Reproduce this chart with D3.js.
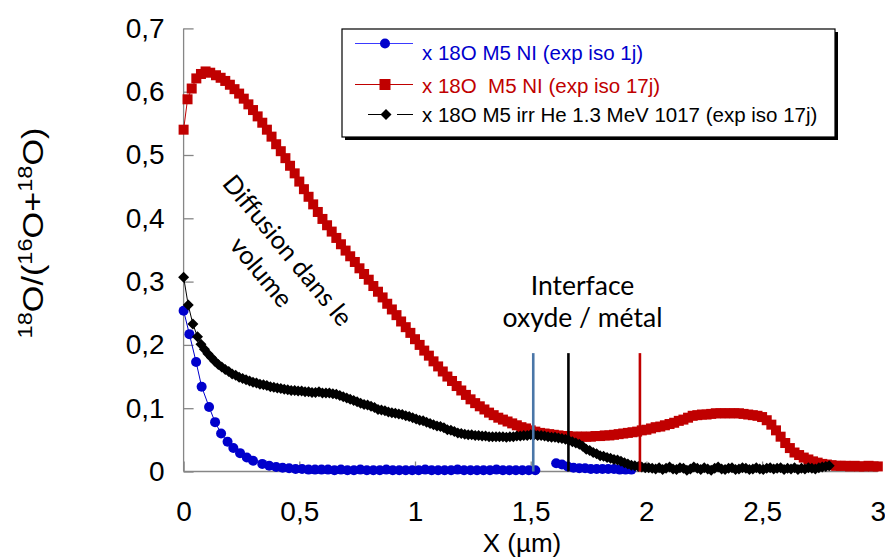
<!DOCTYPE html>
<html><head><meta charset="utf-8">
<script src="https://cdn.jsdelivr.net/npm/d3@7"></script>
<style>
html,body{margin:0;padding:0;background:#fff;}
svg{display:block;}
</style></head>
<body>
<svg id="c" width="885" height="559"></svg>
<script>
// ---------- data ----------
const blueX1 = [0,0.025,0.054,0.078,0.11,0.136,0.162,0.19,0.215,0.244,0.273,0.30,0.34,0.37,
 0.40,0.428,0.456,0.484,0.512,0.54,0.568,0.596,0.624,0.652,0.68,0.708,0.736,0.764,0.792,0.82,0.848,0.876,0.904,0.932,0.96,0.988,
 1.016,1.044,1.072,1.10,1.128,1.156,1.184,1.212,1.24,1.268,1.296,1.324,1.352,1.38,1.408,1.436,1.464,1.492,1.52];
const blueY1 = [0.254,0.217,0.173,0.134,0.102,0.078,0.060,0.047,0.037,0.029,0.022,0.017,0.012,0.009,
 0.007,0.006,0.005,0.004,0.004,0.003,0.003,0.003,0.003,0.002,0.003,0.002,0.002,0.003,0.002,0.002,0.002,0.003,0.002,0.002,0.002,0.002,
 0.002,0.003,0.002,0.002,0.002,0.002,0.003,0.002,0.002,0.002,0.002,0.002,0.003,0.002,0.002,0.002,0.002,0.002,0.002];
const blueX2 = [1.61,1.635,1.66,1.685,1.71,1.735,1.76,1.785,1.81,1.835,1.86,1.885,1.91,1.935];
const blueY2 = [0.013,0.011,0.008,0.006,0.005,0.005,0.004,0.004,0.004,0.004,0.004,0.003,0.003,0.003];

const redX = [0,0.017,0.035,0.055,0.075,0.095,0.115,
 0.14,0.16,0.18,0.20,0.22,0.24,0.26,0.28,0.30,0.32,0.34,0.36,0.38,0.40,0.42,0.44,0.46,0.48,0.50,0.52,0.54,0.56,0.58,0.60,
 0.62,0.64,0.66,0.68,0.70,0.72,0.74,0.76,0.78,0.80,0.82,0.84,0.86,0.88,0.90,0.92,0.94,0.96,0.98,1.00,
 1.02,1.04,1.06,1.08,1.10,1.12,1.14,1.16,1.18,1.20,1.22,1.24,1.26,1.28,1.30,1.32,1.34,1.36,1.38,1.40,
 1.42,1.44,1.46,1.48,1.50,1.52,1.54,1.56,1.58,1.60,1.62,1.64,1.66,1.68,1.70,1.72,1.74,1.76,1.78,1.80,
 1.82,1.84,1.86,1.88,1.90,1.92,1.94,1.96,1.98,2.00,2.02,2.04,2.06,2.08,2.10,2.12,2.14,2.16,2.18,2.20,
 2.22,2.24,2.26,2.28,2.30,2.32,2.34,2.36,2.38,2.40,2.42,2.44,2.46,2.48,2.50,2.52,2.54,2.56,2.58,2.60,
 2.62,2.64,2.66,2.68,2.70,2.72,2.74,2.76,2.78,2.80,2.82,2.84,2.86,2.88,2.90,2.92,2.94,2.96,2.98,3.00];
const redY = [0.540,0.588,0.605,0.621,0.628,0.632,0.630,
 0.626,0.622,0.617,0.611,0.604,0.597,0.589,0.580,0.571,0.561,0.551,0.540,0.529,0.517,0.506,0.495,0.483,0.471,0.458,0.446,0.434,0.422,0.410,0.399,
 0.389,0.379,0.369,0.359,0.349,0.340,0.331,0.321,0.312,0.303,0.293,0.284,0.275,0.265,0.256,0.247,0.237,0.228,0.219,0.209,
 0.200,0.191,0.183,0.174,0.166,0.158,0.150,0.143,0.135,0.128,0.121,0.114,0.108,0.103,0.098,0.093,0.089,0.085,0.082,0.079,
 0.076,0.073,0.070,0.068,0.065,0.063,0.061,0.060,0.059,0.058,0.057,0.056,0.056,0.055,0.055,0.055,0.055,0.055,0.056,0.056,
 0.057,0.057,0.058,0.059,0.060,0.061,0.062,0.063,0.065,0.066,0.068,0.070,0.071,0.073,0.075,0.077,0.080,0.082,0.085,0.088,
 0.089,0.090,0.090,0.091,0.092,0.092,0.092,0.092,0.092,0.092,0.091,0.090,0.089,0.088,0.086,0.081,0.074,0.065,0.055,0.045,
 0.037,0.030,0.026,0.022,0.019,0.016,0.014,0.012,0.011,0.010,0.009,0.009,0.009,0.008,0.009,0.008,0.008,0.009,0.008,0.008];

const blackX = [0,0.02,0.04,0.06,0.075,
 0.09,0.105,0.12,0.135,0.15,0.165,0.18,0.195,0.21,0.225,
 0.24,0.255,0.27,0.285,0.30,0.315,0.33,0.345,0.36,0.375,
 0.39,0.405,0.42,0.435,0.45,0.465,0.48,0.495,0.51,0.525,
 0.54,0.555,0.57,0.585,0.60,0.615,0.63,0.645,0.66,0.675,
 0.69,0.705,0.72,0.735,0.75,0.765,0.78,0.795,0.81,0.825,
 0.84,0.855,0.87,0.885,0.90,0.915,0.93,0.945,0.96,0.975,
 0.99,1.005,1.02,1.035,1.05,1.065,1.08,1.095,1.11,1.125,
 1.14,1.155,1.17,1.185,1.20,1.215,1.23,1.245,1.26,1.275,
 1.29,1.305,1.32,1.335,1.35,1.365,1.38,1.395,1.41,1.425,
 1.44,1.455,1.47,1.485,1.50,1.515,1.53,1.545,1.56,1.575,
 1.59,1.605,1.62,1.635,1.65,1.665,1.68,1.695,1.71,1.725,
 1.74,1.755,1.77,1.785,1.80,1.815,1.83,1.845,1.86,1.875,
 1.89,1.905,1.92,1.935,1.95,1.965,1.98,1.995,2.01,2.025,
 2.04,2.055,2.07,2.085,2.10,2.115,2.13,2.145,2.16,2.175,
 2.19,2.205,2.22,2.235,2.25,2.265,2.28,2.295,2.31,2.325,
 2.34,2.355,2.37,2.385,2.40,2.415,2.43,2.445,2.46,2.475,
 2.49,2.505,2.52,2.535,2.55,2.565,2.58,2.595,2.61,2.625,
 2.64,2.655,2.67,2.685,2.70,2.715,2.73,2.745,2.76,2.775,
 2.79];
const blackY = [0.307,0.263,0.233,0.213,0.201,
 0.193,0.186,0.180,0.174,0.169,0.165,0.161,0.158,0.154,0.152,
 0.149,0.147,0.145,0.143,0.141,0.140,0.138,0.137,0.136,0.134,
 0.133,0.132,0.131,0.130,0.129,0.128,0.128,0.127,0.127,0.126,
 0.126,0.125,0.125,0.126,0.124,0.124,0.124,0.123,0.122,0.120,
 0.118,0.116,0.114,0.112,0.110,0.108,0.106,0.105,0.103,0.101,
 0.098,0.097,0.096,0.094,0.093,0.092,0.091,0.090,0.088,0.087,
 0.085,0.083,0.081,0.080,0.078,0.076,0.074,0.072,0.071,0.069,
 0.066,0.065,0.063,0.061,0.060,0.059,0.058,0.058,0.057,0.057,
 0.056,0.056,0.055,0.055,0.055,0.055,0.055,0.054,0.055,0.055,
 0.056,0.056,0.057,0.057,0.058,0.058,0.057,0.057,0.056,0.055,
 0.054,0.054,0.053,0.052,0.051,0.049,0.047,0.045,0.043,0.040,
 0.035,0.033,0.030,0.028,0.025,0.024,0.022,0.021,0.019,0.018,
 0.016,0.014,0.012,0.010,0.009,0.008,0.007,0.006,0.006,0.005,
 0.004,0.006,0.003,0.005,0.007,0.004,0.003,0.006,0.005,0.002,
 0.004,0.007,0.005,0.003,0.006,0.004,0.002,0.005,0.007,0.004,
 0.003,0.005,0.006,0.003,0.004,0.006,0.005,0.003,0.004,0.006,
 0.004,0.003,0.005,0.006,0.004,0.005,0.006,0.003,0.005,0.004,
 0.006,0.003,0.005,0.004,0.006,0.005,0.004,0.006,0.007,0.008,
 0.009];

const interfaceX = [1.511,1.663,1.972];
const interfaceTop = 0.187;

const xTicks = [0,0.5,1,1.5,2,2.5,3];
const xTickLabels = ["0","0,5","1","1,5","2","2,5","3"];
const yTicks = [0,0.1,0.2,0.3,0.4,0.5,0.6,0.7];
const yTickLabels = ["0","0,1","0,2","0,3","0,4","0,5","0,6","0,7"];

const legendLabels = ["x 18O M5 NI (exp iso 1j)","x 18O  M5 NI (exp iso 17j)","x 18O M5 irr He 1.3 MeV 1017 (exp iso 17j)"];

// ---------- drawing ----------
const svg = d3.select("#c");
const x = d3.scaleLinear().domain([0,3]).range([183.6,877.8]);
const y = d3.scaleLinear().domain([0,0.7]).range([471.5,28.4]);
const BLUE="#0000cc", RED="#c00000", BLACK="#000000", AXIS="#868686";
const FONT="Liberation Sans, Arial, sans-serif";
const NOTE_FONT="Lato, 'Open Sans', sans-serif";

// axes
const yAxis = d3.axisLeft(y).tickValues(yTicks).tickSize(-10).tickPadding(19)
  .tickFormat((d,i)=>yTickLabels[i]);
const xAxis = d3.axisBottom(x).tickValues(xTicks).tickSize(-10).tickPadding(30)
  .tickFormat((d,i)=>xTickLabels[i]);
const gy = svg.append("g").attr("transform",`translate(${x(0)},0)`).call(yAxis);
const gx = svg.append("g").attr("transform",`translate(0,${y(0)})`).call(xAxis);
[gx,gy].forEach(g=>{
  g.selectAll(".domain").attr("stroke",AXIS).attr("stroke-width",1.3);
  g.selectAll(".tick line").attr("stroke",AXIS).attr("stroke-width",1.3);
  g.selectAll("text").attr("fill","#000").style("font-family",FONT).style("font-size","28px");
});
gx.selectAll(".domain").attr("d",`M${x(0)},0H${x(3)}`);
gy.selectAll(".domain").attr("d",`M0,${y(0)}V${y(0.7)}`);

// axis titles
svg.append("text").attr("x",522).attr("y",552).attr("text-anchor","middle")
  .style("font-family",FONT).style("font-size","26px").text("X (µm)");
const yl = svg.append("text").attr("transform","translate(43,233) rotate(-90) scale(1.18,1)")
  .attr("text-anchor","middle").style("font-family",FONT).style("font-size","29px");
yl.append("tspan").attr("baseline-shift","super").style("font-size","20px").text("18");
yl.append("tspan").text("O/(");
yl.append("tspan").attr("baseline-shift","super").style("font-size","20px").text("16");
yl.append("tspan").text("O+");
yl.append("tspan").attr("baseline-shift","super").style("font-size","20px").text("18");
yl.append("tspan").text("O)");

const line = d3.line().x(d=>x(d[0])).y(d=>y(d[1]));
const zip = (a,b)=>a.map((v,i)=>[v,b[i]]);
const blue1 = zip(blueX1,blueY1), blue2 = zip(blueX2,blueY2);
const red = zip(redX,redY), black = zip(blackX,blackY);
const diamond = "M0,-5.5L5.5,0L0,5.5L-5.5,0Z";

// blue series
[blue1,blue2].forEach(s=>{
  svg.append("path").attr("d",line(s)).attr("fill","none").attr("stroke",BLUE).attr("stroke-width",1);
  svg.append("g").selectAll("circle").data(s).join("circle")
    .attr("cx",d=>x(d[0])).attr("cy",d=>y(d[1])).attr("r",5).attr("fill",BLUE);
});
// red series
svg.append("path").attr("d",line(red)).attr("fill","none").attr("stroke",RED).attr("stroke-width",1);
svg.append("g").selectAll("rect").data(red).join("rect")
  .attr("x",d=>x(d[0])-5).attr("y",d=>y(d[1])-5).attr("width",10).attr("height",10).attr("fill",RED);
// black series
svg.append("path").attr("d",line(black)).attr("fill","none").attr("stroke",BLACK).attr("stroke-width",1);
svg.append("g").selectAll("path").data(black).join("path")
  .attr("d",diamond).attr("transform",d=>`translate(${x(d[0])},${y(d[1])})`).attr("fill",BLACK);

// interface lines
const ifColors = ["#4a76a8","#000000","#c00000"];
svg.append("g").selectAll("line").data(interfaceX).join("line")
  .attr("x1",d=>x(d)).attr("x2",d=>x(d)).attr("y1",y(interfaceTop)).attr("y2",y(0))
  .attr("stroke",(d,i)=>ifColors[i]).attr("stroke-width",2.6);

// annotations
const ann = svg.append("g").attr("transform","translate(287,251) rotate(50.5)")
  .style("font-family",NOTE_FONT).style("font-size","25.5px").attr("text-anchor","middle");
ann.append("text").attr("x",0).attr("y",8).text("Diffusion dans le");
ann.append("text").attr("x",0).attr("y",42).text("volume");
const itf = svg.append("g").style("font-family",NOTE_FONT).style("font-size","26.5px").attr("text-anchor","middle");
itf.append("text").attr("x",582.5).attr("y",295).text("Interface");
itf.append("text").attr("x",582.5).attr("y",327).text("oxyde / métal");

// legend
const lg = svg.append("g");
lg.append("rect").attr("x",345).attr("y",32).attr("width",493).attr("height",108).attr("fill","#000");
lg.append("rect").attr("x",342).attr("y",29).attr("width",493).attr("height",108).attr("fill","#fff").attr("stroke","#000").attr("stroke-width",1.2);
const rowsY = [43.5,84.5,114.5];
const textY = [60,92.7,121.7];
const lColors = [BLUE,RED,BLACK];
// blue
lg.append("line").attr("x1",355).attr("x2",413).attr("y1",rowsY[0]).attr("y2",rowsY[0]).attr("stroke","#3a3aff").attr("stroke-width",1);
lg.append("circle").attr("cx",385).attr("cy",rowsY[0]).attr("r",5).attr("fill",BLUE);
// red
lg.append("line").attr("x1",355).attr("x2",413).attr("y1",rowsY[1]).attr("y2",rowsY[1]).attr("stroke",RED).attr("stroke-width",1);
lg.append("rect").attr("x",379.5).attr("y",rowsY[1]-5.5).attr("width",11).attr("height",11).attr("fill",RED);
// black
lg.append("line").attr("x1",368).attr("x2",413).attr("y1",rowsY[2]).attr("y2",rowsY[2]).attr("stroke",BLACK).attr("stroke-width",1).attr("stroke-dasharray","17,12,16");
lg.append("path").attr("d",diamond).attr("transform",`translate(386,${rowsY[2]})`).attr("fill",BLACK);
legendLabels.forEach((t,i)=>{
  lg.append("text").attr("x",422).attr("y",textY[i]).attr("fill",lColors[i])
    .style("font-family",FONT).style("font-size","20.5px").style("white-space","pre").attr("xml:space","preserve").text(t);
});
</script>
</body></html>
